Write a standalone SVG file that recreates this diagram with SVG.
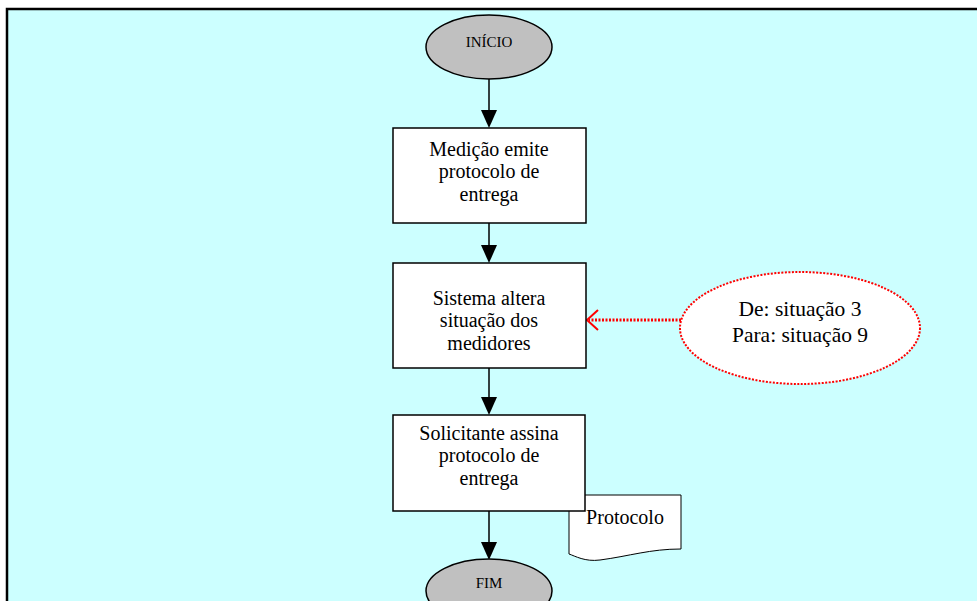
<svg xmlns="http://www.w3.org/2000/svg" width="977" height="601" viewBox="0 0 977 601">
  <defs>
    <style>
      .term { fill: #c0c0c0; stroke: #000; stroke-width: 1.5; }
      .step { fill: #fff; stroke: #000; stroke-width: 1.5; }
      .lbl { font-family: "Liberation Serif", "Times New Roman", serif; font-size: 20px; fill: #000; text-anchor: middle; }
      .big { font-family: "Liberation Serif", "Times New Roman", serif; font-size: 21.5px; fill: #000; text-anchor: middle; }
      .small { font-family: "Liberation Serif", "Times New Roman", serif; font-size: 15px; fill: #000; text-anchor: middle; }
      .line { stroke: #000; stroke-width: 1.5; fill: none; }
      .head { fill: #000; }
      .note { stroke: #ff0000; stroke-width: 3; stroke-dasharray: 2 1.5; fill: none; }
    </style>
  </defs>

  <!-- page background and frame -->
  <rect x="0" y="0" width="977" height="601" fill="#fff"/>
  <rect x="7" y="9" width="980" height="600" fill="#ccffff" stroke="#000" stroke-width="2.5"/>

  <!-- connectors -->
  <g id="connectors">
    <path class="line" d="M489,79 V110"/>
    <path class="head" d="M481,110 L497,110 L489,128 Z"/>
    <path class="line" d="M489,223 V245"/>
    <path class="head" d="M481,245 L497,245 L489,263 Z"/>
    <path class="line" d="M489,368 V397"/>
    <path class="head" d="M481,397 L497,397 L489,415 Z"/>
    <path class="line" d="M489,511 V542"/>
    <path class="head" d="M481,542 L497,542 L489,560 Z"/>
    <!-- dotted note link -->
    <path class="note" d="M681,320 H589"/>
    <path d="M598,310 L587,320 L598,330" stroke="#ff0000" stroke-width="2" fill="none"/>
  </g>

  <g id="inicio">
    <ellipse class="term" cx="489" cy="47" rx="63" ry="32"/>
    <text class="small" x="489" y="47">INÍCIO</text>
  </g>

  <g id="emite">
    <rect class="step" x="393" y="128" width="193" height="95"/>
    <text class="lbl" x="489" y="156">Medição emite</text>
    <text class="lbl" x="489" y="178">protocolo de</text>
    <text class="lbl" x="489" y="201">entrega</text>
  </g>

  <g id="altera">
    <rect class="step" x="393" y="263" width="193" height="105"/>
    <text class="lbl" x="489" y="305">Sistema altera</text>
    <text class="lbl" x="489" y="327">situação dos</text>
    <text class="lbl" x="489" y="350">medidores</text>
  </g>

  <g id="situacao">
    <ellipse cx="800" cy="328" rx="120" ry="56" fill="#fff" stroke="#ff0000" stroke-width="2" stroke-dasharray="2 1.5"/>
    <text class="big" x="800" y="316">De: situação 3</text>
    <text class="big" x="800" y="342">Para: situação 9</text>
  </g>

  <g id="protocolo">
    <path d="M569,495 H681 V549 C650,549 630,556 600,560 C585,562 575,556 569,554 Z" fill="#fff" stroke="#000" stroke-width="1"/>
    <text class="lbl" x="625" y="524">Protocolo</text>
  </g>

  <g id="assina">
    <rect class="step" x="393" y="415" width="192" height="96"/>
    <text class="lbl" x="489" y="440">Solicitante assina</text>
    <text class="lbl" x="489" y="462">protocolo de</text>
    <text class="lbl" x="489" y="485">entrega</text>
  </g>

  <g id="fim">
    <ellipse class="term" cx="489" cy="591" rx="63" ry="32"/>
    <text class="small" x="489" y="588">FIM</text>
  </g>
</svg>
